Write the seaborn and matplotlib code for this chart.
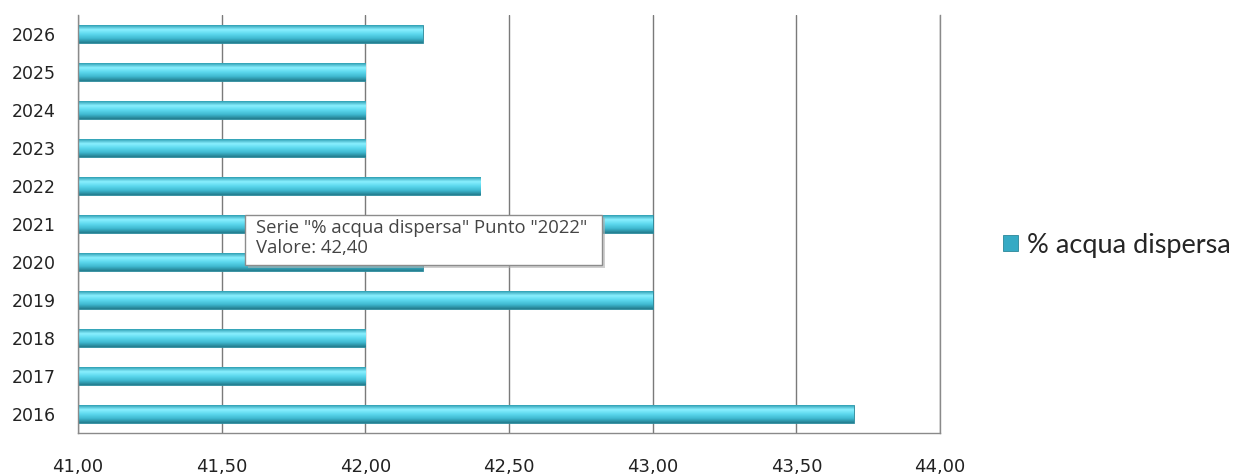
import numpy as np
import pandas as pd
import matplotlib
matplotlib.use("Agg")
import matplotlib.pyplot as plt
import seaborn as sns
from matplotlib.colors import LinearSegmentedColormap
from matplotlib.patches import Rectangle

years = ["2026", "2025", "2024", "2023", "2022", "2021", "2020", "2019", "2018", "2017", "2016"]
values = [42.20, 42.00, 42.00, 42.00, 42.40, 43.00, 42.20, 43.00, 42.00, 42.00, 43.70]
x_ticks = [41.0, 41.5, 42.0, 42.5, 43.0, 43.5, 44.0]
x_labels = ["41,00", "41,50", "42,00", "42,50", "43,00", "43,50", "44,00"]
series_name = "% acqua dispersa"
tooltip_lines = ['Serie "% acqua dispersa" Punto "2022"', "Valore: 42,40"]

df = pd.DataFrame({"anno": years, "valore": values})
x_min, x_max = x_ticks[0], x_ticks[-1]

sns.set_style("white")
plt.rcParams["font.family"] = ["DejaVu Sans"]

fig = plt.figure(figsize=(12.44, 4.75), dpi=100)
ax = fig.add_axes([0.0627, 0.0884, 0.693, 0.8800])

sns.barplot(data=df, x="valore", y="anno", order=years, orient="h",
            color="#4fd0e6", width=0.46, ax=ax, label=series_name)

# the excel axis starts at 41, so bars start there and not at zero
# plus a vertical gradient clipped to each bar for the "cylinder" look
cmap = LinearSegmentedColormap.from_list(
    "tubo", ["#2f9fb3", "#8af0ff", "#5cd8ee", "#3fb9d0", "#237c8e"])
grad = np.linspace(0, 1, 64).reshape(-1, 1)
for p in list(ax.patches):
    w = p.get_width()
    p.set_x(x_min)
    p.set_width(w - x_min)
    y0, h = p.get_y(), p.get_height()
    p.set_edgecolor("#2a8799")
    p.set_linewidth(0.6)
    im = ax.imshow(grad, cmap=cmap, aspect="auto", origin="upper",
                   extent=(x_min, w, y0 + h, y0), zorder=p.get_zorder() + 0.1)
    im.set_clip_path(p)

ax.set_xlim(x_min, x_max)
ax.set_ylim(10.5, -0.5)
ax.set_xticks(x_ticks)
ax.set_xticklabels(x_labels)
ax.set_xlabel("")
ax.set_ylabel("")
ax.tick_params(axis="x", length=0, pad=18, labelsize=13, colors="#222222")
ax.tick_params(axis="y", length=0, pad=16, labelsize=12.5, colors="#222222")
ax.grid(axis="x", color="#7a7a7a", linewidth=1)
ax.set_axisbelow(True)
ax.spines["top"].set_visible(False)
for side in ["left", "bottom", "right"]:
    ax.spines[side].set_color("#8a8a8a")
    ax.spines[side].set_linewidth(1)

# tooltip left over from the excel screenshot
W, H = 1244, 475
fig.patches.append(Rectangle((248 / W, 1 - 268 / H), 357 / W, 50 / H,
                             transform=fig.transFigure, facecolor="#b0b0b0",
                             edgecolor="none", alpha=0.6, zorder=5))
fig.patches.append(Rectangle((245 / W, 1 - 265 / H), 357 / W, 50 / H,
                             transform=fig.transFigure, facecolor="white",
                             edgecolor="#8c8c8c", linewidth=1, zorder=6))
for i, line in enumerate(tooltip_lines):
    fig.text(256 / W, 1 - (228 + 20 * i) / H, line, family="Open Sans",
             fontsize=13.3, color="#444444", va="center", ha="left", zorder=7)

if ax.get_legend():
    ax.get_legend().remove()
handles, labels = ax.get_legend_handles_labels()
leg = fig.legend(handles[:1], [series_name], loc="center left",
                 bbox_to_anchor=(1003 / W, 1 - 245 / H), frameon=False,
                 borderpad=0, borderaxespad=0,
                 handlelength=0.55, handleheight=0.55, handletextpad=0.35,
                 prop={"family": "Lato", "size": 19.5})
for hnd in leg.legend_handles:
    hnd.set_facecolor("#36aac4")
    hnd.set_edgecolor("#2a8799")

fig.savefig("out.png", dpi=100)
